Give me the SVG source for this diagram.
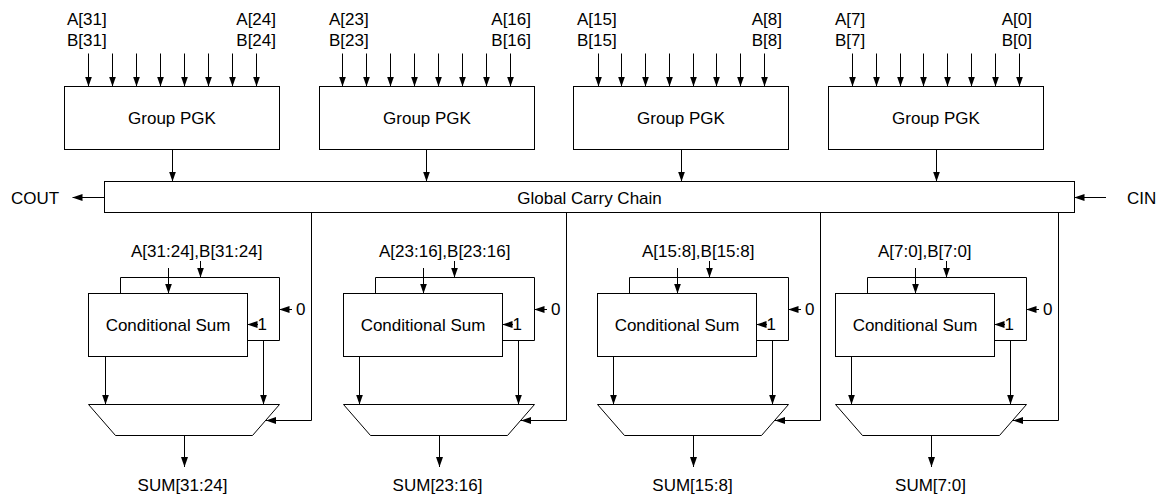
<svg xmlns="http://www.w3.org/2000/svg" width="1161" height="497" viewBox="0 0 1161 497">
<defs>
<style>
text{font-family:"Liberation Sans",Arial,sans-serif;font-size:17px;fill:#000}
.box{fill:#fff;stroke:#000;stroke-width:1}
.ln{fill:none;stroke:#000;stroke-width:1}
.ar{fill:none;stroke:#000;stroke-width:1;marker-end:url(#ah)}
.m{text-anchor:middle}
.e{text-anchor:end}
</style>
<marker id="ah" markerUnits="userSpaceOnUse" markerWidth="10" markerHeight="7" refX="10" refY="3.5" orient="auto">
<path d="M0,0 L10,3.5 L0,7 z" fill="#000"/>
</marker>
</defs>
<rect width="1161" height="497" fill="#fff"/>

<g id="pgk1">
<text x="67" y="24.5">A[31]</text><text x="67" y="45.5">B[31]</text>
<text x="276" y="24.5" class="e">A[24]</text><text x="276" y="45.5" class="e">B[24]</text>
<rect class="box" x="64.5" y="86.5" width="215" height="63"/>
<text x="172" y="124" class="m">Group PGK</text>
</g>
<g id="pgk2">
<text x="329" y="24.5">A[23]</text><text x="329" y="45.5">B[23]</text>
<text x="531" y="24.5" class="e">A[16]</text><text x="531" y="45.5" class="e">B[16]</text>
<rect class="box" x="319.5" y="86.5" width="215" height="63"/>
<text x="427" y="124" class="m">Group PGK</text>
</g>
<g id="pgk3">
<text x="577" y="24.5">A[15]</text><text x="577" y="45.5">B[15]</text>
<text x="782" y="24.5" class="e">A[8]</text><text x="782" y="45.5" class="e">B[8]</text>
<rect class="box" x="573.5" y="86.5" width="215" height="63"/>
<text x="681" y="124" class="m">Group PGK</text>
</g>
<g id="pgk4">
<text x="835" y="24.5">A[7]</text><text x="835" y="45.5">B[7]</text>
<text x="1032" y="24.5" class="e">A[0]</text><text x="1032" y="45.5" class="e">B[0]</text>
<rect class="box" x="828.5" y="86.5" width="215" height="63"/>
<text x="936" y="124" class="m">Group PGK</text>
</g>

<g id="chain">
<rect class="box" x="104.5" y="181.5" width="970" height="31"/>
<text x="589.5" y="203.5" class="m">Global Carry Chain</text>
</g>
<g id="cout"><text x="11" y="204">COUT</text></g>
<g id="cin"><text x="1127" y="204">CIN</text></g>

<g id="cs1">
<text x="131" y="257">A[31:24],B[31:24]</text>
<polyline class="ln" points="120.5,293.5 120.5,277.5 279.5,277.5 279.5,340.5 247.5,340.5"/>
<rect class="box" x="88.5" y="293.5" width="159" height="63"/>
<text x="168" y="331" class="m">Conditional Sum</text>
<text x="296" y="315">0</text><text x="257.5" y="330">1</text>
<polygon class="box" points="88.5,404.5 279.5,404.5 252.5,435.5 115.5,435.5"/>
<text x="182.5" y="491" class="m">SUM[31:24]</text>
</g>
<g id="cs2">
<text x="379" y="257">A[23:16],B[23:16]</text>
<polyline class="ln" points="375.5,293.5 375.5,277.5 534.5,277.5 534.5,340.5 502.5,340.5"/>
<rect class="box" x="343.5" y="293.5" width="159" height="63"/>
<text x="423" y="331" class="m">Conditional Sum</text>
<text x="551" y="315">0</text><text x="512.5" y="330">1</text>
<polygon class="box" points="343.5,404.5 534.5,404.5 507.5,435.5 370.5,435.5"/>
<text x="437.5" y="491" class="m">SUM[23:16]</text>
</g>
<g id="cs3">
<text x="642" y="257">A[15:8],B[15:8]</text>
<polyline class="ln" points="629.5,293.5 629.5,277.5 788.5,277.5 788.5,340.5 756.5,340.5"/>
<rect class="box" x="597.5" y="293.5" width="159" height="63"/>
<text x="677" y="331" class="m">Conditional Sum</text>
<text x="805" y="315">0</text><text x="766.5" y="330">1</text>
<polygon class="box" points="597.5,404.5 788.5,404.5 761.5,435.5 624.5,435.5"/>
<text x="692.5" y="491" class="m">SUM[15:8]</text>
</g>
<g id="cs4">
<text x="878" y="257">A[7:0],B[7:0]</text>
<polyline class="ln" points="867.5,293.5 867.5,277.5 1026.5,277.5 1026.5,340.5 994.5,340.5"/>
<rect class="box" x="835.5" y="293.5" width="159" height="63"/>
<text x="915" y="331" class="m">Conditional Sum</text>
<text x="1043" y="315">0</text><text x="1004.5" y="330">1</text>
<polygon class="box" points="835.5,404.5 1026.5,404.5 999.5,435.5 862.5,435.5"/>
<text x="930.5" y="491" class="m">SUM[7:0]</text>
</g>

<g id="connectors">
<!-- PGK inputs -->
<path class="ar" d="M88.5,53.5V86.5"/><path class="ar" d="M112.5,53.5V86.5"/><path class="ar" d="M136.5,53.5V86.5"/><path class="ar" d="M160.5,53.5V86.5"/><path class="ar" d="M184.5,53.5V86.5"/><path class="ar" d="M208.5,53.5V86.5"/><path class="ar" d="M232.5,53.5V86.5"/><path class="ar" d="M256.5,53.5V86.5"/>
<path class="ar" d="M342.5,53.5V86.5"/><path class="ar" d="M366.5,53.5V86.5"/><path class="ar" d="M390.5,53.5V86.5"/><path class="ar" d="M414.5,53.5V86.5"/><path class="ar" d="M438.5,53.5V86.5"/><path class="ar" d="M462.5,53.5V86.5"/><path class="ar" d="M486.5,53.5V86.5"/><path class="ar" d="M510.5,53.5V86.5"/>
<path class="ar" d="M598.5,53.5V86.5"/><path class="ar" d="M621.5,53.5V86.5"/><path class="ar" d="M645.5,53.5V86.5"/><path class="ar" d="M669.5,53.5V86.5"/><path class="ar" d="M693.5,53.5V86.5"/><path class="ar" d="M716.5,53.5V86.5"/><path class="ar" d="M740.5,53.5V86.5"/><path class="ar" d="M764.5,53.5V86.5"/>
<path class="ar" d="M852.5,53.5V86.5"/><path class="ar" d="M876.5,53.5V86.5"/><path class="ar" d="M900.5,53.5V86.5"/><path class="ar" d="M923.5,53.5V86.5"/><path class="ar" d="M947.5,53.5V86.5"/><path class="ar" d="M971.5,53.5V86.5"/><path class="ar" d="M995.5,53.5V86.5"/><path class="ar" d="M1019.5,53.5V86.5"/>
<!-- PGK to chain -->
<path class="ar" d="M172.5,149.5V181.5"/><path class="ar" d="M426.5,149.5V181.5"/><path class="ar" d="M681.5,149.5V181.5"/><path class="ar" d="M936.5,149.5V181.5"/>
<!-- COUT / CIN -->
<path class="ar" d="M104.5,197.5H72.5"/>
<path class="ar" d="M1106,197.5H1074.5"/>
<!-- cond sum inputs -->
<path class="ar" d="M168.5,268V293.5"/><path class="ar" d="M200.5,261V277.5"/>
<path class="ar" d="M423.5,268V293.5"/><path class="ar" d="M454.5,261V277.5"/>
<path class="ar" d="M677.5,268V293.5"/><path class="ar" d="M709.5,261V277.5"/>
<path class="ar" d="M915.5,268V293.5"/><path class="ar" d="M946.5,261V277.5"/>
<!-- 0 / 1 inputs -->
<path class="ar" d="M292,309.5H279.5"/><path class="ar" d="M258,324.5H247.5"/>
<path class="ar" d="M547,309.5H534.5"/><path class="ar" d="M513,324.5H502.5"/>
<path class="ar" d="M801,309.5H788.5"/><path class="ar" d="M767,324.5H756.5"/>
<path class="ar" d="M1039,309.5H1026.5"/><path class="ar" d="M1005,324.5H994.5"/>
<!-- cond sum to mux -->
<path class="ar" d="M105.5,356.5V404.5"/><path class="ar" d="M263.5,340.5V404.5"/>
<path class="ar" d="M359.5,356.5V404.5"/><path class="ar" d="M518.5,340.5V404.5"/>
<path class="ar" d="M613.5,356.5V404.5"/><path class="ar" d="M772.5,340.5V404.5"/>
<path class="ar" d="M851.5,356.5V404.5"/><path class="ar" d="M1010.5,340.5V404.5"/>
<!-- select lines -->
<path class="ar" d="M311.5,212.5V420.5H266"/>
<path class="ar" d="M566.5,212.5V420.5H521"/>
<path class="ar" d="M820.5,212.5V420.5H775"/>
<path class="ar" d="M1058.5,212.5V420.5H1013"/>
<!-- mux outputs -->
<path class="ar" d="M184.5,435.5V467"/>
<path class="ar" d="M439.5,435.5V467"/>
<path class="ar" d="M693.5,435.5V467"/>
<path class="ar" d="M931.5,435.5V467"/>
</g>
</svg>
